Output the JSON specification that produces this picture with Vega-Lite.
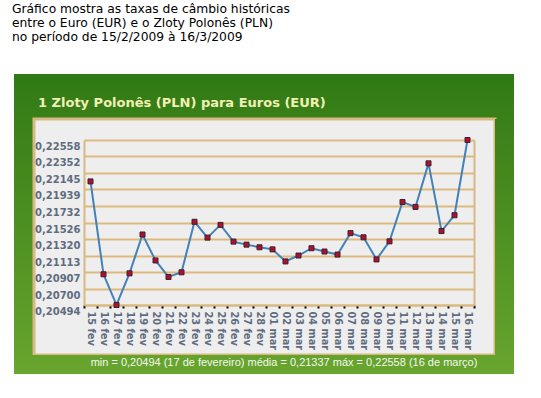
{
  "$schema": "https://vega.github.io/schema/vega-lite/v6.json",
  "background": "white",
  "padding": {"left": 12, "top": 2, "right": 29, "bottom": 25},
  "title": {
    "text": ["Gráfico mostra as taxas de câmbio históricas", "entre o Euro (EUR) e o Zloty Polonês (PLN)", "no período de 15/2/2009 à 16/3/2009"],
    "anchor": "start", "frame": "group", "font": "DejaVu Sans", "fontSize": 12.3, "fontWeight": "normal",
    "color": "#000000", "lineHeight": 14, "baseline": "top", "offset": 31, "dx": -2
  },
  "config": {"view": {"stroke": null}, "concat": {"spacing": 0}},
  "spacing": 0,
  "bounds": "flush",
  "columns": 3,
  "concat": [
    {
      "width": 20, "height": 45,
      "data": {"values": [{}]},
      "mark": {"type": "rect", "color": {"gradient": "linear", "x1": 0, "y1": 0, "x2": 0, "y2": 1, "stops": [{"offset": 0, "color": "#2F7A14"}, {"offset": 1, "color": "#3A8019"}]}},
      "encoding": {}
    },
    {
      "width": 461, "height": 45,
      "data": {"values": [{}]},
      "layer": [
        {"mark": {"type": "rect", "color": {"gradient": "linear", "x1": 0, "y1": 0, "x2": 0, "y2": 1, "stops": [{"offset": 0, "color": "#2F7A14"}, {"offset": 1, "color": "#3A8019"}]}}, "encoding": {}},
        {"mark": {"type": "text", "text": "1 Zloty Polonês (PLN) para Euros (EUR)", "align": "left", "baseline": "alphabetic", "dx": -226.5, "dy": 10.5, "font": "DejaVu Sans", "fontWeight": "bold", "fontSize": 13, "color": "#F2F0B4"}, "encoding": {}}
      ]
    },
    {
      "width": 19, "height": 45,
      "data": {"values": [{}]},
      "mark": {"type": "rect", "color": {"gradient": "linear", "x1": 0, "y1": 0, "x2": 0, "y2": 1, "stops": [{"offset": 0, "color": "#2F7A14"}, {"offset": 1, "color": "#3A8019"}]}},
      "encoding": {}
    },
    {
      "width": 20, "height": 236,
      "data": {"values": [{}]},
      "mark": {"type": "rect", "color": {"gradient": "linear", "x1": 0, "y1": 0, "x2": 0, "y2": 1, "stops": [{"offset": 0, "color": "#3A8019"}, {"offset": 1, "color": "#64A22C"}]}},
      "encoding": {}
    },
    {
      "width": 461, "height": 236,
      "view": {"fill": "#EEEEEE", "stroke": "#D8B982", "strokeWidth": 3},
      "data": {"values": [
        {"d": "15 fev", "v": 0.22040},
        {"d": "16 fev", "v": 0.20878},
        {"d": "17 fev", "v": 0.20494},
        {"d": "18 fev", "v": 0.20890},
        {"d": "19 fev", "v": 0.21376},
        {"d": "20 fev", "v": 0.21051},
        {"d": "21 fev", "v": 0.20845},
        {"d": "22 fev", "v": 0.20903},
        {"d": "23 fev", "v": 0.21535},
        {"d": "24 fev", "v": 0.21337},
        {"d": "25 fev", "v": 0.21496},
        {"d": "26 fev", "v": 0.21287},
        {"d": "27 fev", "v": 0.21249},
        {"d": "28 fev", "v": 0.21216},
        {"d": "01 mar", "v": 0.21190},
        {"d": "02 mar", "v": 0.21039},
        {"d": "03 mar", "v": 0.21113},
        {"d": "04 mar", "v": 0.21204},
        {"d": "05 mar", "v": 0.21163},
        {"d": "06 mar", "v": 0.21125},
        {"d": "07 mar", "v": 0.21393},
        {"d": "08 mar", "v": 0.21341},
        {"d": "09 mar", "v": 0.21064},
        {"d": "10 mar", "v": 0.21290},
        {"d": "11 mar", "v": 0.21782},
        {"d": "12 mar", "v": 0.21721},
        {"d": "13 mar", "v": 0.22266},
        {"d": "14 mar", "v": 0.21419},
        {"d": "15 mar", "v": 0.21617},
        {"d": "16 mar", "v": 0.22558}
      ]},
      "encoding": {
        "x": {
          "field": "d", "type": "ordinal", "sort": null,
          "scale": {"type": "band", "range": [50, 440], "paddingInner": 0, "paddingOuter": 0},
          "axis": {
            "orient": "bottom", "offset": -50, "title": null, "grid": false,
            "labelAngle": 90, "labelAlign": "left", "labelBaseline": "middle", "labelPadding": 3,
            "labelFont": "DejaVu Sans", "labelFontWeight": "bold", "labelFontSize": 9.8, "labelColor": "#5F6C80",
            "tickBand": "extent", "tickSize": 3, "tickWidth": 2, "tickColor": "#000000",
            "domainColor": "#D8B982", "domainWidth": 2
          }
        },
        "y": {
          "field": "v", "type": "quantitative",
          "scale": {"domain": [0.20494, 0.22558], "range": [186, 21], "zero": false, "nice": false},
          "axis": {
            "orient": "left", "offset": -50, "title": null,
            "values": [0.20494, 0.207, 0.20907, 0.21113, 0.2132, 0.21526, 0.21732, 0.21939, 0.22145, 0.22352, 0.22558],
            "labelExpr": "replace(format(datum.value, '.5f'), '.', ',')",
            "grid": true, "gridColor": "#DDB97F", "gridWidth": 2, "gridOpacity": 1,
            "ticks": false, "tickSize": 0, "labelPadding": 4,
            "labelFont": "DejaVu Sans", "labelFontWeight": "bold", "labelFontSize": 10, "labelColor": "#5F6C80",
            "labelBaseline": "middle", "labelOffset": 6.5,
            "domain": true, "domainColor": "#D8B982", "domainWidth": 2
          }
        }
      },
      "layer": [
        {"mark": {"type": "line", "color": "#4381B8", "strokeWidth": 2}},
        {
          "mark": {"type": "point", "shape": "square", "filled": true, "size": 25, "fill": "#B0102E", "stroke": "#3A2030", "strokeWidth": 1, "opacity": 1},
          "encoding": {
            "y": {
              "field": "v", "type": "quantitative",
              "scale": {"domain": [0.20494, 0.22558], "range": [186, 21], "zero": false, "nice": false},
              "axis": {"orient": "right", "offset": -21, "title": null, "labels": false, "ticks": false, "grid": false,
                       "values": [0.20494, 0.22558],
                       "domain": true, "domainColor": "#D8B982", "domainWidth": 2}
            }
          }
        }
      ],
      "resolve": {"axis": {"y": "independent"}}
    },
    {
      "width": 19, "height": 236,
      "data": {"values": [{}]},
      "mark": {"type": "rect", "color": {"gradient": "linear", "x1": 0, "y1": 0, "x2": 0, "y2": 1, "stops": [{"offset": 0, "color": "#3A8019"}, {"offset": 1, "color": "#64A22C"}]}},
      "encoding": {}
    },
    {
      "width": 20, "height": 19,
      "data": {"values": [{}]},
      "mark": {"type": "rect", "color": {"gradient": "linear", "x1": 0, "y1": 0, "x2": 0, "y2": 1, "stops": [{"offset": 0, "color": "#64A22C"}, {"offset": 1, "color": "#69A630"}]}},
      "encoding": {}
    },
    {
      "width": 461, "height": 19,
      "data": {"values": [{}]},
      "layer": [
        {"mark": {"type": "rect", "color": {"gradient": "linear", "x1": 0, "y1": 0, "x2": 0, "y2": 1, "stops": [{"offset": 0, "color": "#64A22C"}, {"offset": 1, "color": "#69A630"}]}}, "encoding": {}},
        {"mark": {"type": "text", "text": "min = 0,20494 (17 de fevereiro) média = 0,21337  máx = 0,22558 (16 de março)", "align": "center", "baseline": "middle", "dx": 19.5, "dy": -1.5, "font": "Liberation Sans", "fontSize": 11, "color": "#F4F8EE"}, "encoding": {}}
      ]
    },
    {
      "width": 19, "height": 19,
      "data": {"values": [{}]},
      "mark": {"type": "rect", "color": {"gradient": "linear", "x1": 0, "y1": 0, "x2": 0, "y2": 1, "stops": [{"offset": 0, "color": "#64A22C"}, {"offset": 1, "color": "#69A630"}]}},
      "encoding": {}
    }
  ]
}
